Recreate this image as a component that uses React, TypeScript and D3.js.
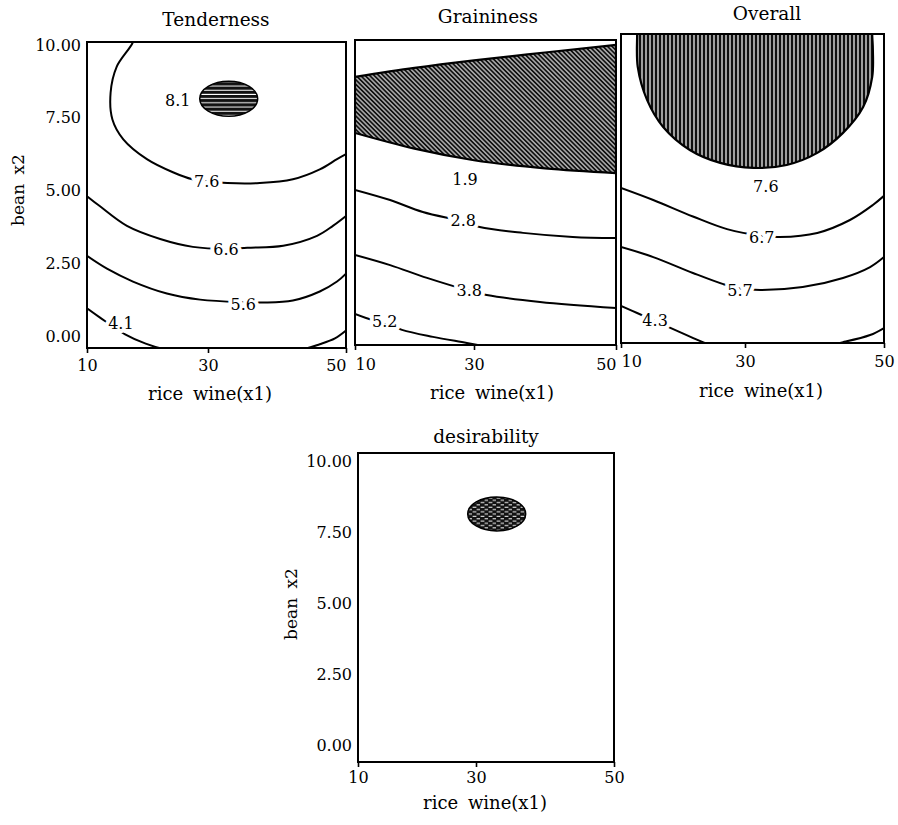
import React, { useRef, useEffect } from 'react';
import * as d3 from 'd3';

const width = 898;
const height = 825;
const font = '"DejaVu Serif", "Liberation Serif", serif';

const xTicks = [10, 30, 50];
const yTicks = [0, 2.5, 5, 7.5, 10];

// [rice wine x1, bean x2]
const tender76 = [[18.0, 10.5], [17.6, 10.1], [14.9, 9.25], [13.9, 8.36], [14.2, 7.44], [16.0, 6.76], [19.9, 6.08], [24.2, 5.63], [27.4, 5.39], [29.8, 5.32], [32.8, 5.26], [37.5, 5.26], [42.3, 5.39], [46.2, 5.73], [48.7, 6.08], [50, 6.25]];
const tender66 = [[10, 4.81], [12.1, 4.47], [16.6, 3.79], [22.1, 3.34], [27.5, 3.07], [32.6, 3.0], [35.7, 3.04], [40.9, 3.11], [45.8, 3.45], [48.1, 3.79], [50, 4.13]];
const tender56 = [[10, 2.76], [13.3, 2.32], [17.6, 1.88], [23.2, 1.47], [28.7, 1.26], [35.1, 1.17], [38.0, 1.16], [42.3, 1.23], [46.2, 1.54], [48.7, 1.88], [50, 2.15]];
const tender41 = [[10, 0.96], [12.1, 0.65], [16.3, 0.07], [19.6, -0.24], [23.7, -0.48], [36.3, -0.6], [43.1, -0.48], [46.2, -0.27], [48.4, -0.07], [50, 0.2]];
const tenderLabels = ['8.1', '7.6', '6.6', '5.6', '4.1'];
const tenderLabelPos = [[25.0, 8.11], [29.8, 5.31], [32.6, 2.99], [35.1, 1.11], [15.6, 0.45]];

const grainBandX = [10, 20, 30, 40, 50];
const grainBandUpper = [8.83, 9.14, 9.4, 9.67, 9.93];
const grainBandLower = [6.9, 6.36, 5.96, 5.68, 5.52];
const grain28 = [[10, 4.94], [15.9, 4.59], [21.4, 4.18], [28.2, 3.85], [30.8, 3.66], [36.9, 3.46], [43.9, 3.32], [50, 3.28]];
const grain38 = [[10, 2.7], [15.9, 2.35], [22.1, 1.91], [29.2, 1.47], [31.8, 1.32], [39.3, 1.08], [50, 0.87]];
const grain52 = [[10, 0.67], [12.9, 0.46], [15.0, 0.36], [17.9, 0.12], [23.1, -0.12], [28.8, -0.33], [33.7, -0.54]];
const grainLabels = ['1.9', '2.8', '3.8', '5.2'];
const grainLabelPos = [[28.5, 5.3], [28.2, 3.88], [29.2, 1.47], [15.0, 0.42]];

const overallPeak = [[12.6, 10.6], [12.6, 10.1], [12.7, 8.98], [14.2, 7.86], [16.8, 6.94], [21.1, 6.16], [26.0, 5.72], [31.2, 5.55], [36.0, 5.65], [40.4, 6.06], [44.1, 6.74], [47.0, 7.62], [48.3, 8.64], [48.4, 9.56], [48.3, 10.1], [48.3, 10.6]];
const overall67 = [[10, 4.87], [15.2, 4.46], [21.6, 3.9], [27.1, 3.47], [32.4, 3.24], [35.0, 3.2], [40.4, 3.34], [45.1, 3.78], [48.4, 4.29], [50, 4.6]];
const overall57 = [[10, 2.86], [15.2, 2.52], [21.6, 1.98], [26.5, 1.6], [29.2, 1.45], [32.2, 1.4], [38.3, 1.5], [44.1, 1.81], [48.0, 2.18], [50, 2.52]];
const overall43 = [[10, 0.86], [12.6, 0.62], [19.5, -0.03], [23.2, -0.37], [27.6, -0.64], [36.5, -0.7], [44.1, -0.37], [48.0, -0.13], [50, 0.11]];
const overallLabels = ['7.6', '6.7', '5.7', '4.3'];
const overallLabelPos = [[33.0, 4.91], [32.4, 3.19], [29.2, 1.38], [15.5, 0.36]];

const optimum = [33, 8.15];
const optimumRadius = [4.2, 0.6];

const panels = [
    {
        title: 'Tenderness', xr: [87, 208, 346], yr: [348, 42], ydom: [-0.4, 10.1],
        titleAt: [216, 26], xTitleAt: [210, 400], yTitleAt: [24, 190], yAxis: true,
        anchors: ['middle', 'middle', 'end'], pad: 7,
        lines: [tender76, tender66, tender56, tender41], labels: tenderLabels, labelPos: tenderLabelPos,
        ellipse: 'hatch-h'
    },
    {
        title: 'Graininess', xr: [355, 474, 616], yr: [345, 40], ydom: [-0.4, 10.1],
        titleAt: [488, 23], xTitleAt: [492, 399], yAxis: false,
        anchors: ['start', 'middle', 'end'], pad: 9,
        lines: [grain28, grain38, grain52], labels: grainLabels, labelPos: grainLabelPos,
        band: true
    },
    {
        title: 'Overall', xr: [621, 745, 884], yr: [343, 34], ydom: [-0.4, 10.1],
        titleAt: [767, 20], xTitleAt: [761, 397], yAxis: false,
        anchors: ['start', 'middle', 'middle'], pad: 8,
        lines: [overall67, overall57, overall43], labels: overallLabels, labelPos: overallLabelPos,
        peak: overallPeak
    },
    {
        title: 'desirability', xr: [358, 476, 614], yr: [762, 453], ydom: [-0.6, 10.3],
        titleAt: [486, 443], xTitleAt: [485, 809], yTitleAt: [297, 604], yAxis: true,
        anchors: ['middle', 'middle', 'middle'], pad: 5,
        lines: [], labels: [], labelPos: [],
        ellipse: 'hatch-d'
    }
];

const App = () => {
    const d3svg = useRef<SVGSVGElement>(null);

    useEffect(() => {
        const svg = d3.select(d3svg.current);
        svg.selectAll('*').remove();
        svg.attr('font-family', font);

        // hatching patterns
        const defs = svg.append('defs');
        const hh = defs.append('pattern').attr('id', 'hatch-h').attr('patternUnits', 'userSpaceOnUse')
            .attr('width', 6).attr('height', 4.2);
        hh.append('rect').attr('width', 6).attr('height', 4.2).attr('fill', '#111');
        hh.append('line').attr('x1', 0).attr('x2', 6).attr('y1', 2).attr('y2', 2)
            .attr('stroke', '#fff').attr('stroke-width', 1);

        const hd = defs.append('pattern').attr('id', 'hatch-diag').attr('patternUnits', 'userSpaceOnUse')
            .attr('width', 3.2).attr('height', 3.2).attr('patternTransform', 'rotate(-45)');
        hd.append('rect').attr('width', 3.2).attr('height', 3.2).attr('fill', '#111');
        hd.append('line').attr('x1', 1.6).attr('x2', 1.6).attr('y1', 0).attr('y2', 3.2)
            .attr('stroke', '#fff').attr('stroke-width', 1);

        const hv = defs.append('pattern').attr('id', 'hatch-v').attr('patternUnits', 'userSpaceOnUse')
            .attr('width', 4).attr('height', 4);
        hv.append('rect').attr('width', 4).attr('height', 4).attr('fill', '#111');
        hv.append('line').attr('x1', 2).attr('x2', 2).attr('y1', 0).attr('y2', 4)
            .attr('stroke', '#fff').attr('stroke-width', 1.2);

        const hx = defs.append('pattern').attr('id', 'hatch-d').attr('patternUnits', 'userSpaceOnUse')
            .attr('width', 8).attr('height', 4.6);
        hx.append('rect').attr('width', 8).attr('height', 4.6).attr('fill', '#111');
        hx.append('line').attr('x1', 0.6).attr('x2', 4.4).attr('y1', 1.2).attr('y2', 1.2)
            .attr('stroke', '#fff').attr('stroke-width', 1);
        hx.append('line').attr('x1', 4.6).attr('x2', 8).attr('y1', 3.5).attr('y2', 3.5)
            .attr('stroke', '#fff').attr('stroke-width', 1);

        panels.forEach((p, i) => {
            const x = d3.scaleLinear().domain(xTicks).range(p.xr);
            const y = d3.scaleLinear().domain(p.ydom).range(p.yr);
            const left = p.xr[0], right = p.xr[2], top = p.yr[1], bottom = p.yr[0];

            defs.append('clipPath').attr('id', `clip-${i}`)
                .append('rect').attr('x', left).attr('y', top)
                .attr('width', right - left).attr('height', bottom - top);

            const g = svg.append('g');
            const plot = g.append('g').attr('clip-path', `url(#clip-${i})`);

            const line = d3.line<number[]>()
                .x(d => x(d[0]))
                .y(d => y(d[1]))
                .curve(d3.curveCatmullRom.alpha(0.5));

            if (p.band) {
                const area = d3.area<number>()
                    .x((d, j) => x(grainBandX[j]))
                    .y0((d, j) => y(grainBandLower[j]))
                    .y1((d, j) => y(grainBandUpper[j]))
                    .curve(d3.curveMonotoneX);
                plot.append('path').attr('d', area(grainBandX))
                    .attr('fill', 'url(#hatch-diag)').attr('stroke', '#000').attr('stroke-width', 2.2);
            }

            if (p.peak) {
                plot.append('path').attr('d', line(p.peak) + 'Z')
                    .attr('fill', 'url(#hatch-v)').attr('stroke', '#000').attr('stroke-width', 2.2);
            }

            if (p.ellipse) {
                plot.append('ellipse')
                    .attr('cx', x(optimum[0])).attr('cy', y(optimum[1]))
                    .attr('rx', x(optimum[0] + optimumRadius[0]) - x(optimum[0]))
                    .attr('ry', y(optimum[1] - optimumRadius[1]) - y(optimum[1]))
                    .attr('fill', `url(#${p.ellipse})`).attr('stroke', '#000').attr('stroke-width', 1.5);
            }

            plot.selectAll('path.contour')
                .data(p.lines)
                .join('path')
                .attr('class', 'contour')
                .attr('d', d => line(d))
                .attr('fill', 'none')
                .attr('stroke', '#000')
                .attr('stroke-width', 2);

            // contour labels, white halo cuts the line
            g.selectAll('text.level')
                .data(p.labels)
                .join('text')
                .attr('class', 'level')
                .attr('x', (d, j) => x(p.labelPos[j][0]))
                .attr('y', (d, j) => y(p.labelPos[j][1]))
                .attr('dy', '0.36em')
                .attr('text-anchor', 'middle')
                .attr('font-size', 16)
                .attr('stroke', '#fff')
                .attr('stroke-width', 8)
                .attr('stroke-linejoin', 'round')
                .attr('paint-order', 'stroke')
                .attr('fill', '#000')
                .text(d => d);

            // frame
            g.append('rect')
                .attr('x', left).attr('y', top)
                .attr('width', right - left).attr('height', bottom - top)
                .attr('fill', 'none').attr('stroke', '#000').attr('stroke-width', 2);

            // x axis
            const xa = g.append('g')
                .attr('transform', `translate(0, ${bottom})`)
                .call(d3.axisBottom(x).tickValues(xTicks).tickSize(5).tickPadding(p.pad).tickFormat(d3.format('d')));
            xa.select('.domain').remove();
            xa.attr('font-family', font).attr('font-size', 16);
            xa.selectAll('line').attr('stroke-width', 1.6);
            xa.selectAll('text').attr('fill', '#000')
                .attr('text-anchor', (d, j) => p.anchors[j]);

            if (p.yAxis) {
                const ya = g.append('g')
                    .attr('transform', `translate(${left}, 0)`)
                    .call(d3.axisLeft(y).tickValues(yTicks).tickSize(0).tickPadding(6).tickFormat(d3.format('.2f')));
                ya.select('.domain').remove();
                ya.attr('font-family', font).attr('font-size', 16);
                ya.selectAll('text').attr('fill', '#000');

                g.append('text')
                    .attr('transform', `translate(${p.yTitleAt[0]}, ${p.yTitleAt[1]}) rotate(-90)`)
                    .attr('text-anchor', 'middle')
                    .attr('font-size', 17)
                    .attr('word-spacing', 4)
                    .text('bean x2');
            }

            g.append('text')
                .attr('x', p.xTitleAt[0]).attr('y', p.xTitleAt[1])
                .attr('text-anchor', 'middle')
                .attr('font-size', 18)
                .attr('word-spacing', 4)
                .text('rice wine(x1)');

            g.append('text')
                .attr('x', p.titleAt[0]).attr('y', p.titleAt[1])
                .attr('text-anchor', 'middle')
                .attr('font-size', 18.5)
                .text(p.title);
        });
    }, []);

    return (
        <svg
            ref={d3svg}
            width={width}
            height={height}
            style={{ position: 'absolute', left: 0, top: 0, background: '#fff' }}
        />
    );
};

export default App;
